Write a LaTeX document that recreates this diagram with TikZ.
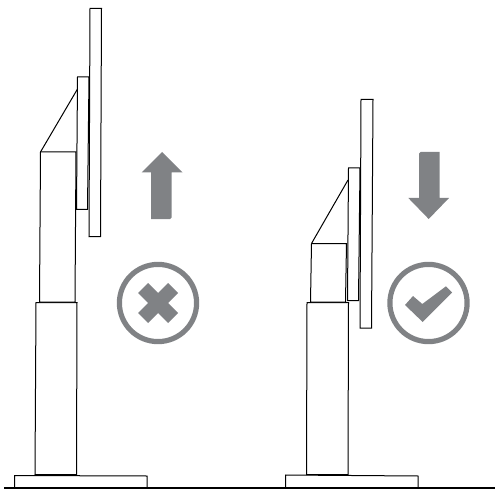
\documentclass[tikz,border=0pt]{standalone}
\definecolor{signgray}{HTML}{808285}
\tikzset{
  outline/.style={draw=black,line width=1pt,fill=white,line join=miter},
  sign/.style={fill=signgray,draw=none},
  ring/.style={draw=signgray,line width=5.2pt,fill=none}
}
\begin{document}
\begin{tikzpicture}[x=1pt,y=-1pt]
\useasboundingbox (0,0) rectangle (495,489);
% left stand
\draw[outline] (14.5,475.5) -- (147,476) -- (147,487.5) -- (14.5,487.5) -- cycle;
\draw[outline] (36,302.5) -- (77,302.5) -- (76.5,474.5) -- (35,474.5) -- cycle;
\draw[outline] (40.5,152) -- (76,152) -- (75,302) -- (39.5,302) -- cycle;
\draw[outline] (40.5,152) -- (77.5,89);
\draw[outline] (90,8.5) -- (101.5,8.5) -- (100.5,236.5) -- (89,236.5) -- cycle;
\draw[outline] (77.5,77) -- (89,77) -- (87.5,209.5) -- (76.5,209.5) -- cycle;
% right stand
\draw[outline] (285.5,475) -- (418,476) -- (418,487.5) -- (285.5,487.5) -- cycle;
\draw[outline] (307,302.5) -- (348.5,302.5) -- (348,474.5) -- (306.5,474.5) -- cycle;
\draw[outline] (311.5,243.5) -- (346.5,243.5) -- (345.5,302) -- (310.5,302) -- cycle;
\draw[outline] (311.5,243.5) -- (348,180);
\draw[outline] (361,99.5) -- (373,99.5) -- (371.5,328) -- (360,328) -- cycle;
\draw[outline] (348.5,168) -- (360,168) -- (358.5,300.5) -- (347.5,300.5) -- cycle;
% ground
\draw[black,line width=1.6pt] (4,488) -- (495,488);
% up arrow and cross sign
\fill[sign] (162,152) -- (182.5,172.5) -- (171.5,172.5) -- (171.5,217.5) [rounded corners=1.5pt] -- (171.5,219) [sharp corners] -- (151,219) -- (151,172.5) -- (141.5,172.5) -- cycle;
\draw[ring] (158,303) circle (38.6);
\fill[sign] (138,293) -- (148,283) -- (158,293) -- (168,283) -- (178,293) -- (168,303) -- (178,313) -- (168,323) -- (158,313) -- (148,323) -- (138,313) -- (148,303) -- cycle;
% down arrow and check sign
\fill[sign] (419,198) [rounded corners=1.5pt] -- (419,152) [sharp corners] -- (439.5,152) -- (439.5,198) -- (449,198) -- (428.7,219) -- (408.3,198) -- cycle;
\draw[ring] (428.5,303) circle (38.6);
\fill[sign] (405,305) -- (413,296) -- (422.3,304) -- (446,286.3) -- (452,292.5) -- (422.7,322) -- cycle;
\end{tikzpicture}
\end{document}
